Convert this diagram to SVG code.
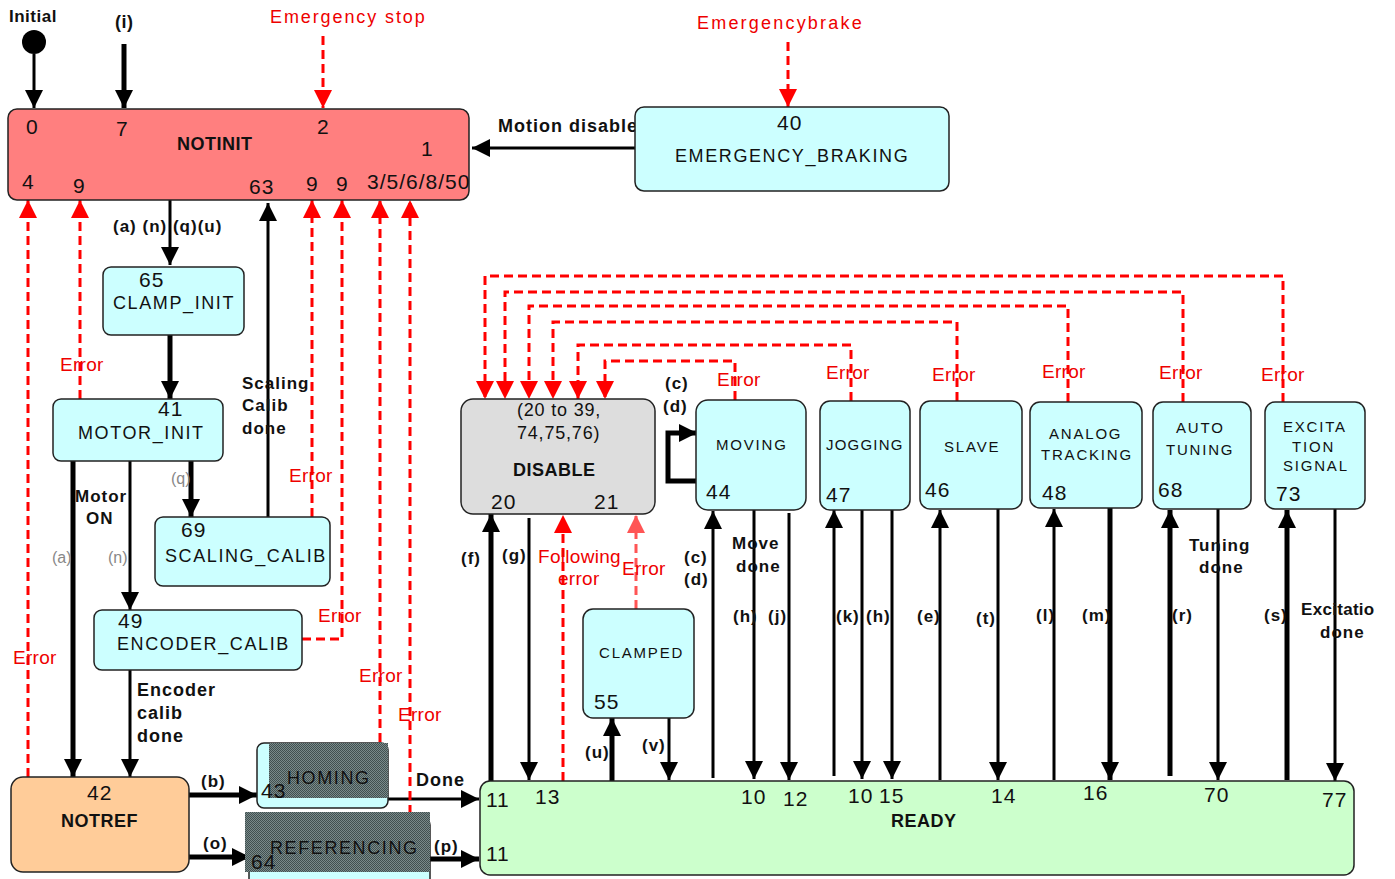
<svg xmlns="http://www.w3.org/2000/svg" width="1395" height="879" viewBox="0 0 1395 879">
<style>
text{font-family:"Liberation Sans",Arial,sans-serif;fill:#111}
.num{font-size:21px;letter-spacing:1px}
.nm{font-size:18px;letter-spacing:1.6px}
.sm{font-size:15px;letter-spacing:1.8px}
.b{font-weight:bold;font-size:18px;letter-spacing:0.5px}
.lbl{font-weight:bold;font-size:17px;letter-spacing:1px}
.gray{font-size:16px;fill:#888}
.err{font-size:19px;fill:#ee0000;letter-spacing:0.3px}
.ttl{font-size:18px;fill:#ee0000;letter-spacing:1.9px}
.box{stroke:#222;stroke-width:1.5}
.cy{fill:#ccffff}
.k{stroke:#000;fill:none;stroke-width:3}
.kt{stroke:#000;fill:none;stroke-width:5}
.r{stroke:#ff0000;fill:none;stroke-width:3;stroke-dasharray:9 5}
</style>
<defs>
<marker id="ak" markerUnits="userSpaceOnUse" markerWidth="18" markerHeight="18" refX="16" refY="8" orient="auto" viewBox="0 0 16 16">
<path d="M0,0 L16,8 L0,16 z" fill="#000"/>
</marker>
<marker id="ar" markerUnits="userSpaceOnUse" markerWidth="18" markerHeight="18" refX="16" refY="8" orient="auto" viewBox="0 0 16 16">
<path d="M0,0 L16,8 L0,16 z" fill="#ff0000"/>
</marker>
<marker id="arl" markerUnits="userSpaceOnUse" markerWidth="18" markerHeight="18" refX="16" refY="8" orient="auto" viewBox="0 0 16 16">
<path d="M0,0 L16,8 L0,16 z" fill="#ff5555"/>
</marker>
<pattern id="hatch" width="2" height="2" patternUnits="userSpaceOnUse">
<rect width="2" height="2" fill="#7a8a8a"/>
<rect width="1" height="1" fill="#415050"/>
<rect x="1" y="1" width="1" height="1" fill="#415050"/>
</pattern>
</defs>
<rect width="1395" height="879" fill="#fff"/>

<g id="connectors">
<circle cx="34" cy="42" r="12" fill="#000"/>
<line class="k" x1="34" y1="54" x2="34" y2="108" marker-end="url(#ak)"/>
<line class="kt" x1="124" y1="44" x2="124" y2="108" marker-end="url(#ak)"/>
<line class="r" x1="323" y1="36" x2="323" y2="108" marker-end="url(#ar)"/>
<line class="r" x1="788" y1="42" x2="788" y2="107" marker-end="url(#ar)"/>
<line class="k" x1="635" y1="148" x2="472" y2="148" marker-end="url(#ak)"/>
<line class="k" x1="170" y1="200" x2="170" y2="265" marker-end="url(#ak)"/>
<line class="kt" x1="170" y1="335" x2="170" y2="399" marker-end="url(#ak)"/>
<line class="kt" x1="73" y1="461" x2="73" y2="777" marker-end="url(#ak)"/>
<line class="k" x1="130" y1="461" x2="130" y2="610" marker-end="url(#ak)"/>
<line class="kt" x1="191" y1="461" x2="191" y2="517" marker-end="url(#ak)"/>
<line class="k" x1="268" y1="517" x2="268" y2="203" marker-end="url(#ak)"/>
<line class="k" x1="130" y1="670" x2="130" y2="777" marker-end="url(#ak)"/>
<line class="kt" x1="189" y1="795" x2="257" y2="795" marker-end="url(#ak)"/>
<line class="kt" x1="189" y1="857" x2="250" y2="857" marker-end="url(#ak)"/>
<line class="k" x1="388" y1="799" x2="479" y2="799" marker-end="url(#ak)"/>
<line class="kt" x1="427" y1="859" x2="479" y2="859" marker-end="url(#ak)"/>
<line class="r" x1="28" y1="777" x2="28" y2="200" marker-end="url(#ar)"/>
<line class="r" x1="80" y1="399" x2="80" y2="200" marker-end="url(#ar)"/>
<line class="r" x1="312" y1="517" x2="312" y2="200" marker-end="url(#ar)"/>
<polyline class="r" points="302,639 342,639 342,200" marker-end="url(#ar)"/>
<line class="r" x1="380" y1="742" x2="380" y2="200" marker-end="url(#ar)"/>
<line class="r" x1="410" y1="828" x2="410" y2="200" marker-end="url(#ar)"/>
<polyline class="r" points="735,400 735,361 605,361 605,399" marker-end="url(#ar)"/>
<polyline class="r" points="851,401 851,345 578,345 578,399" marker-end="url(#ar)"/>
<polyline class="r" points="957,401 957,322 553,322 553,399" marker-end="url(#ar)"/>
<polyline class="r" points="1068,402 1068,306 529,306 529,399" marker-end="url(#ar)"/>
<polyline class="r" points="1183,402 1183,292 505,292 505,399" marker-end="url(#ar)"/>
<polyline class="r" points="1283,402 1283,276 485,276 485,399" marker-end="url(#ar)"/>
<line class="kt" x1="491" y1="781" x2="491" y2="514" marker-end="url(#ak)"/>
<line class="k" x1="529" y1="518" x2="529" y2="780" marker-end="url(#ak)"/>
<line class="r" x1="563" y1="781" x2="563" y2="515" marker-end="url(#ar)"/>
<line class="r" x1="636" y1="609" x2="636" y2="515" style="stroke:#ff5555" marker-end="url(#arl)"/>
<line class="kt" x1="612" y1="781" x2="612" y2="718" marker-end="url(#ak)"/>
<line class="k" x1="669" y1="718" x2="669" y2="780" marker-end="url(#ak)"/>
<polyline class="kt" points="700,481 668,481 668,433 697,433" marker-end="url(#ak)"/>
<line class="k" x1="713" y1="778" x2="713" y2="511" marker-end="url(#ak)"/>
<line class="k" x1="754" y1="510" x2="754" y2="779" marker-end="url(#ak)"/>
<line class="k" x1="789" y1="513" x2="789" y2="780" marker-end="url(#ak)"/>
<line class="k" x1="834" y1="776" x2="834" y2="510" marker-end="url(#ak)"/>
<line class="k" x1="862" y1="510" x2="862" y2="779" marker-end="url(#ak)"/>
<line class="k" x1="892" y1="510" x2="892" y2="779" marker-end="url(#ak)"/>
<line class="k" x1="940" y1="780" x2="940" y2="510" marker-end="url(#ak)"/>
<line class="k" x1="998" y1="509" x2="998" y2="780" marker-end="url(#ak)"/>
<line class="k" x1="1054" y1="780" x2="1054" y2="509" marker-end="url(#ak)"/>
<line class="kt" x1="1110" y1="508" x2="1110" y2="780" marker-end="url(#ak)"/>
<line class="kt" x1="1170" y1="776" x2="1170" y2="510" marker-end="url(#ak)"/>
<line class="k" x1="1218" y1="509" x2="1218" y2="780" marker-end="url(#ak)"/>
<line class="kt" x1="1287" y1="780" x2="1287" y2="510" marker-end="url(#ak)"/>
<line class="k" x1="1335" y1="509" x2="1335" y2="781" marker-end="url(#ak)"/>
</g>

<g id="labels">
<text class="b" x="9" y="22" style="font-size:17px">Initial</text>
<text class="b" x="115" y="28">(i)</text>
<text class="ttl" x="270" y="23">Emergency stop</text>
<text class="ttl" x="697" y="29" style="letter-spacing:2.2px">Emergencybrake</text>
<text class="lbl" x="498" y="132" style="font-size:18px">Motion disable</text>
<text class="lbl" x="113" y="232">(a) (n) (q)(u)</text>
<text class="err" x="60" y="371">Error</text>
<text class="lbl" x="242" y="389">Scaling</text>
<text class="lbl" x="242" y="411">Calib</text>
<text class="lbl" x="242" y="434">done</text>
<text class="err" x="289" y="482">Error</text>
<text class="gray" x="171" y="484">(q)</text>
<text class="lbl" x="75" y="502">Motor</text>
<text class="lbl" x="86" y="524">ON</text>
<text class="gray" x="52" y="563">(a)</text>
<text class="gray" x="108" y="563">(n)</text>
<text class="err" x="318" y="622">Error</text>
<text class="err" x="13" y="664">Error</text>
<text class="err" x="359" y="682">Error</text>
<text class="err" x="398" y="721">Error</text>
<text class="lbl" x="137" y="696" style="font-size:18px">Encoder</text>
<text class="lbl" x="137" y="719" style="font-size:18px">calib</text>
<text class="lbl" x="137" y="742" style="font-size:18px">done</text>
<text class="lbl" x="201" y="787">(b)</text>
<text class="lbl" x="203" y="849">(o)</text>
<text class="lbl" x="416" y="786" style="font-size:18px">Done</text>
<text class="lbl" x="434" y="852">(p)</text>
<text class="lbl" x="461" y="564">(f)</text>
<text class="lbl" x="502" y="561">(g)</text>
<text class="err" x="538" y="563">Following</text>
<text class="err" x="558" y="585">error</text>
<text class="err" x="622" y="575">Error</text>
<text class="lbl" x="585" y="758">(u)</text>
<text class="lbl" x="642" y="751">(v)</text>
<text class="lbl" x="665" y="389">(c)</text>
<text class="lbl" x="663" y="412">(d)</text>
<text class="err" x="717" y="386">Error</text>
<text class="lbl" x="684" y="563">(c)</text>
<text class="lbl" x="684" y="585">(d)</text>
<text class="lbl" x="732" y="549">Move</text>
<text class="lbl" x="736" y="572">done</text>
<text class="lbl" x="733" y="622">(h)</text>
<text class="lbl" x="768" y="622">(j)</text>
<text class="err" x="826" y="379">Error</text>
<text class="lbl" x="836" y="622">(k)</text>
<text class="lbl" x="866" y="622">(h)</text>
<text class="err" x="932" y="381">Error</text>
<text class="lbl" x="917" y="622">(e)</text>
<text class="lbl" x="976" y="624">(t)</text>
<text class="err" x="1042" y="378">Error</text>
<text class="lbl" x="1036" y="621">(l)</text>
<text class="lbl" x="1082" y="621">(m)</text>
<text class="err" x="1159" y="379">Error</text>
<text class="lbl" x="1172" y="621">(r)</text>
<text class="lbl" x="1189" y="551">Tuning</text>
<text class="lbl" x="1199" y="573">done</text>
<text class="err" x="1261" y="381">Error</text>
<text class="lbl" x="1264" y="621">(s)</text>
<text class="lbl" x="1301" y="615" style="letter-spacing:0.3px">Excitatio</text>
<text class="lbl" x="1320" y="638">done</text>
</g>

<g id="NOTINIT">
<rect class="box" x="8" y="109" width="461" height="91" rx="9" fill="#ff7f7f"/>
<text class="num" x="26" y="134">0</text>
<text class="num" x="116" y="136">7</text>
<text class="num" x="317" y="134">2</text>
<text class="b" x="177" y="150">NOTINIT</text>
<text class="num" x="421" y="156">1</text>
<text class="num" x="22" y="189">4</text>
<text class="num" x="73" y="193">9</text>
<text class="num" x="249" y="194">63</text>
<text class="num" x="306" y="191">9</text>
<text class="num" x="336" y="191">9</text>
<text class="num" x="367" y="189">3/5/6/8/50</text>
</g>

<g id="EMERGENCY_BRAKING">
<rect class="box cy" x="635" y="107" width="314" height="84" rx="9"/>
<text class="num" x="777" y="130">40</text>
<text class="nm" x="675" y="162">EMERGENCY_BRAKING</text>
</g>

<g id="CLAMP_INIT">
<rect class="box cy" x="103" y="267" width="141" height="68" rx="8"/>
<text class="num" x="139" y="287">65</text>
<text class="nm" x="113" y="309">CLAMP_INIT</text>
</g>

<g id="MOTOR_INIT">
<rect class="box cy" x="53" y="399" width="170" height="62" rx="8"/>
<text class="num" x="158" y="416">41</text>
<text class="nm" x="78" y="439">MOTOR_INIT</text>
</g>

<g id="SCALING_CALIB">
<rect class="box cy" x="155" y="517" width="175" height="69" rx="8"/>
<text class="num" x="181" y="537">69</text>
<text class="nm" x="165" y="562">SCALING_CALIB</text>
</g>

<g id="ENCODER_CALIB">
<rect class="box cy" x="94" y="610" width="208" height="60" rx="8"/>
<text class="num" x="118" y="628">49</text>
<text class="nm" x="117" y="650">ENCODER_CALIB</text>
</g>

<g id="NOTREF">
<rect class="box" x="11" y="777" width="178" height="95" rx="12" fill="#ffcc99"/>
<text class="num" x="87" y="800">42</text>
<text class="b" x="61" y="827">NOTREF</text>
</g>

<g id="HOMING">
<rect class="box cy" x="257" y="743" width="131" height="65" rx="7"/>
<rect x="269" y="743" width="119" height="55" fill="url(#hatch)"/>
<text class="nm" x="287" y="784">HOMING</text>
<text class="num" x="261" y="798">43</text>
</g>

<g id="REFERENCING">
<rect class="box cy" x="249" y="818" width="181" height="70" rx="7"/>
<rect x="245" y="812" width="185" height="60" fill="url(#hatch)"/>
<text class="nm" x="270" y="854">REFERENCING</text>
<text class="num" x="251" y="869">64</text>
</g>

<g id="READY">
<rect class="box" x="480" y="781" width="874" height="94" rx="10" fill="#ccffcc"/>
<text class="num" x="486" y="807">11</text>
<text class="num" x="535" y="804">13</text>
<text class="num" x="741" y="804">10</text>
<text class="num" x="783" y="806">12</text>
<text class="num" x="848" y="803">10</text>
<text class="num" x="879" y="803">15</text>
<text class="num" x="991" y="803">14</text>
<text class="num" x="1083" y="800">16</text>
<text class="num" x="1204" y="802">70</text>
<text class="num" x="1322" y="807">77</text>
<text class="b" x="891" y="827">READY</text>
<text class="num" x="486" y="861">11</text>
</g>

<g id="DISABLE">
<rect class="box" x="461" y="399" width="194" height="115" rx="12" fill="#dddddd"/>
<text class="nm" x="517" y="416" style="letter-spacing:0.8px">(20 to 39,</text>
<text class="nm" x="517" y="439" style="letter-spacing:0.8px">74,75,76)</text>
<text class="b" x="513" y="476">DISABLE</text>
<text class="num" x="491" y="509">20</text>
<text class="num" x="594" y="509">21</text>
</g>

<g id="CLAMPED">
<rect class="box cy" x="583" y="609" width="111" height="109" rx="10"/>
<text class="sm" x="599" y="658">CLAMPED</text>
<text class="num" x="594" y="709">55</text>
</g>

<g id="MOVING">
<rect class="box cy" x="696" y="400" width="110" height="110" rx="12"/>
<text class="sm" x="716" y="450">MOVING</text>
<text class="num" x="706" y="499">44</text>
</g>

<g id="JOGGING">
<rect class="box cy" x="820" y="401" width="90" height="109" rx="10"/>
<text class="sm" x="826" y="450" style="letter-spacing:1.2px">JOGGING</text>
<text class="num" x="826" y="502">47</text>
</g>

<g id="SLAVE">
<rect class="box cy" x="920" y="401" width="102" height="108" rx="10"/>
<text class="sm" x="944" y="452">SLAVE</text>
<text class="num" x="925" y="497">46</text>
</g>

<g id="ANALOG_TRACKING">
<rect class="box cy" x="1030" y="402" width="112" height="106" rx="10"/>
<text class="sm" x="1049" y="439">ANALOG</text>
<text class="sm" x="1041" y="460">TRACKING</text>
<text class="num" x="1042" y="500">48</text>
</g>

<g id="AUTO_TUNING">
<rect class="box cy" x="1153" y="402" width="98" height="107" rx="10"/>
<text class="sm" x="1176" y="433">AUTO</text>
<text class="sm" x="1166" y="455">TUNING</text>
<text class="num" x="1158" y="497">68</text>
</g>

<g id="EXCITATION_SIGNAL">
<rect class="box cy" x="1265" y="402" width="100" height="107" rx="10"/>
<text class="sm" x="1283" y="432">EXCITA</text>
<text class="sm" x="1292" y="452">TION</text>
<text class="sm" x="1283" y="471">SIGNAL</text>
<text class="num" x="1276" y="501">73</text>
</g>
</svg>
